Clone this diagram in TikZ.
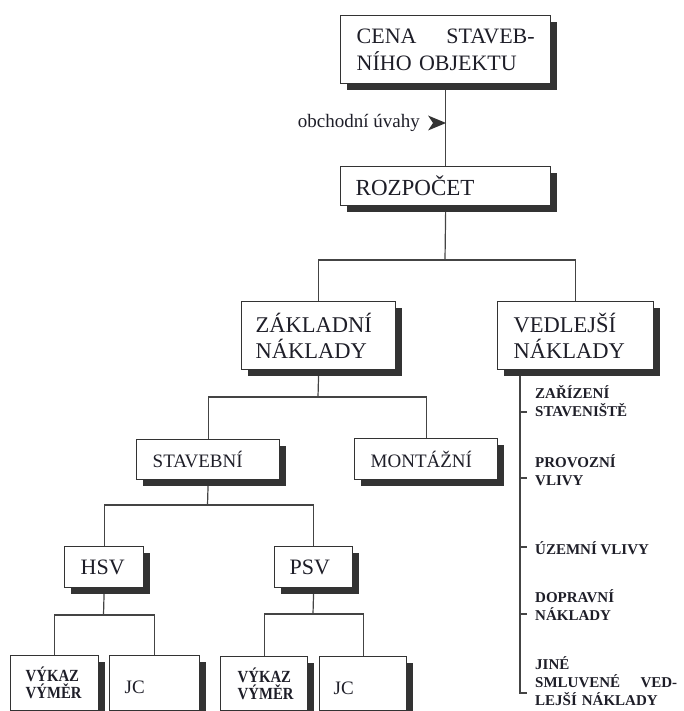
\documentclass[tikz,border=0pt]{standalone}
\usepackage{fontspec}
\setmainfont{Liberation Serif}
\newfontfamily\condbf[FakeStretch=0.87]{Liberation Serif}
\usetikzlibrary{shadows,backgrounds,arrows.meta}
\definecolor{boxline}{HTML}{333333}
\definecolor{shadowc}{HTML}{333333}
\definecolor{connc}{HTML}{444444}
\definecolor{txt}{HTML}{1E1E28}
\begin{document}
\begin{tikzpicture}[x=1pt,y=-1pt,
  box/.style={draw=boxline, line width=1.4pt, fill=white, anchor=north west,
    inner ysep=0pt, align=left, text=txt,
    drop shadow={shadow xshift=6pt, shadow yshift=-6pt, fill=shadowc, opacity=1}},
  conn/.style={draw=connc, line width=1.2pt},
  item/.style={anchor=west, inner sep=0pt, align=left, text=txt,
    font=\fontsize{15}{18}\selectfont\bfseries},
  bigf/.style={font=\fontsize{22}{27}\selectfont},
  midf/.style={font=\fontsize{19}{22}\selectfont},
  vykf/.style={font=\fontsize{17}{17}\condbf\bfseries},
]
\useasboundingbox (0,0) rectangle (683,711);

% boxes
\node[box, bigf, text width=178pt, inner xsep=16pt, minimum height=68pt] (cena) at (340,15) {CENA\hfill STAVEB-\\NÍHO OBJEKTU};
\node[box, font=\fontsize{23}{27}\selectfont, text width=180pt, inner xsep=15pt, minimum height=39pt] (rozp) at (340,166) {ROZPOČET};
\node[box, font=\fontsize{22.5}{26}\selectfont, text width=126pt, inner xsep=14pt, minimum height=68pt] (zakl) at (241,301) {ZÁKLADNÍ\\NÁKLADY};
\node[box, font=\fontsize{22.5}{26}\selectfont, text width=124pt, inner xsep=16pt, minimum height=68pt] (vedl) at (497,301) {VEDLEJŠÍ\\NÁKLADY};
\node[box, midf, text width=111pt, inner xsep=16pt, minimum height=41pt] (mont) at (354,438) {MONTÁŽNÍ};
\node[box, midf, text width=111pt, inner xsep=16pt, minimum height=40pt] (stav) at (136,439) {STAVEBNÍ};
\node[box, bigf, text width=47pt, inner xsep=16pt, minimum height=41pt] (hsv) at (64,546) {HSV};
\node[box, bigf, text width=48pt, inner xsep=15pt, minimum height=41pt] (psv) at (274,546) {PSV};
\node[box, vykf, text width=58pt, inner xsep=15pt, minimum height=55pt] (vyk1) at (10,655) {VÝKAZ\\VÝMĚR};
\node[box, midf, text width=60pt, inner xsep=15pt, minimum height=55pt, text height=21pt] (jc1) at (109,655) {JC};
\node[box, vykf, text width=53pt, inner xsep=17pt, minimum height=54pt] (vyk2) at (220,656) {VÝKAZ\\VÝMĚR};
\node[box, midf, text width=59pt, inner xsep=14pt, minimum height=54pt, text height=21pt] (jc2) at (319,656) {JC};

% label with arrowhead
\node[anchor=east, inner sep=0pt, font=\fontsize{19}{22}\selectfont, text=txt] (obch) at (420,123) {obchodní úvahy};
\coordinate (tip) at (446,123);
\coordinate (tailc) at (428,123);

% list items
\node[item] (i1) at (535,401) {ZAŘÍZENÍ\\STAVENIŠTĚ};
\node[item] (i2) at (535,470) {PROVOZNÍ\\VLIVY};
\node[item] (i3) at (535,548) {ÚZEMNÍ VLIVY};
\node[item] (i4) at (535,605) {DOPRAVNÍ\\NÁKLADY};
\node[item, text width=142pt] (i5) at (535,681) {JINÉ\\SMLUVENÉ\hfill VED-\\LEJŠÍ NÁKLADY};

% junction coordinates
\coordinate (j1) at (445,260);
\coordinate (j2) at (318,397);
\coordinate (j3) at (207.5,505);
\coordinate (j4) at (103.5,615);
\coordinate (j5) at (313,614);
\coordinate (vtop) at ([xshift=23pt]vedl.south west);
\coordinate (corner) at (520,693);
\coordinate (cend) at (527,693);
\coordinate (t1a) at (520,412); \coordinate (t1b) at (527,412);
\coordinate (t2a) at (520,478); \coordinate (t2b) at (527,478);
\coordinate (t3a) at (520,547); \coordinate (t3b) at (527,547);
\coordinate (t4a) at (520,614); \coordinate (t4b) at (527,614);

\begin{pgfonlayer}{background}
\draw[conn] (cena.south) -- (rozp.north);
\draw[conn] (rozp.south) -- (j1);
\draw[conn] (zakl.north) |- (j1) -| (vedl.north);
\draw[conn] (zakl.south) -- (j2);
\draw[conn] (stav.north) |- (j2) -| (mont.north);
\draw[conn] (stav.south) -- (j3);
\draw[conn] (hsv.north) |- (j3) -| (psv.north);
\draw[conn] (hsv.south) -- (j4);
\draw[conn] (vyk1.north) |- (j4) -| (jc1.north);
\draw[conn] (psv.south) -- (j5);
\draw[conn] (vyk2.north) |- (j5) -| (jc2.north);
\draw[conn] (vtop) -- (corner) -- (cend);
\draw[conn] (t1a) -- (t1b);
\draw[conn] (t2a) -- (t2b);
\draw[conn] (t3a) -- (t3b);
\draw[conn] (t4a) -- (t4b);
\end{pgfonlayer}

% arrowhead pointing at the line
\fill[boxline] (tip) -- ([yshift=-7.5pt]tailc) -- ([xshift=5pt]tailc) -- ([yshift=7.5pt]tailc) -- cycle;
\end{tikzpicture}
\end{document}
